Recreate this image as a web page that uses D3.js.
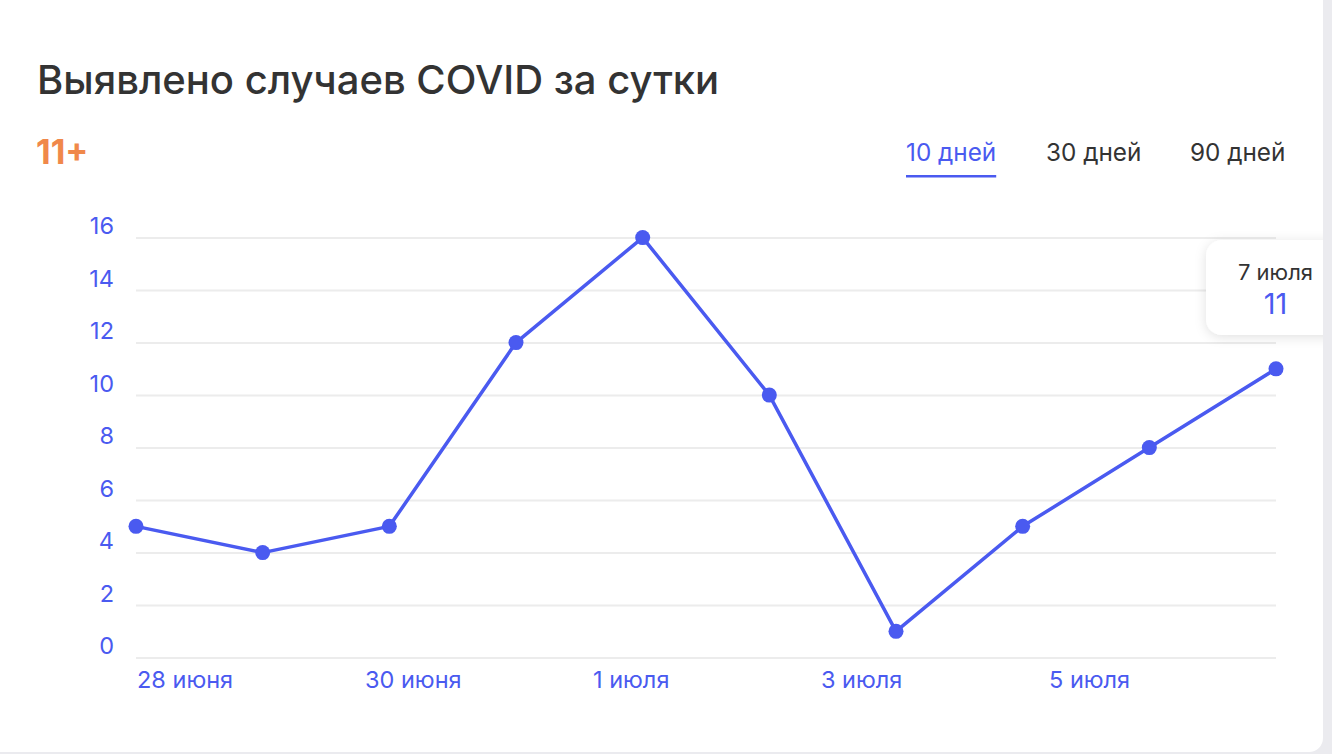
<!DOCTYPE html>
<html>
<head>
<meta charset="utf-8">
<script src="https://cdn.jsdelivr.net/npm/d3@7"></script>
<style>
  html, body { margin: 0; padding: 0; background: #ebebef; }
  svg { display: block; font-family: Inter, "Noto Sans", sans-serif; }
</style>
</head>
<body>
<svg id="chart" width="1332" height="754"></svg>
<script>
const dates = ["28 июня","29 июня","30 июня","1 июля","2 июля","3 июля","4 июля","5 июля","6 июля","7 июля"];
const values = [5, 4, 5, 12, 16, 10, 1, 5, 8, 11];
const xTickLabels = ["28 июня","30 июня","1 июля","3 июля","5 июля"];
const yTicks = [0, 2, 4, 6, 8, 10, 12, 14, 16];
const tabs = ["10 дней", "30 дней", "90 дней"];
const titleText = "Выявлено случаев COVID за сутки";
const badgeText = "11+";

const blue = "#4a5af0";
const svg = d3.select("#chart");

// card
svg.append("defs").append("clipPath").attr("id","cardClip")
  .append("rect").attr("x",-30).attr("y",-30).attr("width",1353).attr("height",782).attr("rx",14);
const filter = svg.select("defs").append("filter").attr("id","shadow")
  .attr("x","-30%").attr("y","-30%").attr("width","160%").attr("height","160%");
filter.append("feDropShadow").attr("dx",0).attr("dy",2).attr("stdDeviation",6)
  .attr("flood-color","#000").attr("flood-opacity",0.12);

svg.append("rect").attr("x",-30).attr("y",-30).attr("width",1353).attr("height",782)
  .attr("rx",14).attr("fill","#fff");

const card = svg.append("g").attr("clip-path","url(#cardClip)");

// title
card.append("text").attr("x",37).attr("y",94).attr("font-size",40).attr("font-weight",500)
  .attr("fill","#333").text(titleText);
card.append("text").attr("x",36).attr("y",164).attr("font-size",34).attr("font-weight",700)
  .attr("fill","#f0884a").text(badgeText);

// tabs
const tabX = [906, 1046, 1190];
tabs.forEach((t,i) => {
  const el = card.append("text").attr("x",tabX[i]).attr("y",161).attr("font-size",24.3)
    .attr("fill", i===0 ? blue : "#333").text(t);
  if (i===0) {
    const w = el.node().getComputedTextLength();
    card.append("rect").attr("x",tabX[i]).attr("y",175).attr("width",w).attr("height",2.5).attr("fill",blue);
  }
});

// scales
const x = d3.scalePoint().domain(dates).range([136, 1276]);
const y = d3.scaleLinear().domain([0,16]).range([657.6, 237.6]);
const xl = d3.scaleBand().domain(xTickLabels).range([136, 1276]);

// grid
const yAxis = d3.axisLeft(y).tickValues(yTicks).tickSize(0).tickFormat(d3.format("d"));
const gy = card.append("g").call(yAxis);
gy.select(".domain").remove();
gy.selectAll(".tick text").remove();
gy.selectAll(".tick").append("line").attr("x1",136).attr("x2",1276)
  .attr("stroke","#ececec").attr("stroke-width",2);
gy.selectAll(".tick").append("text").attr("x",114).attr("y",-4)
  .attr("text-anchor","end").attr("font-size",23.5).attr("fill",blue)
  .attr("font-family","Inter, 'Noto Sans', sans-serif")
  .text(d => d);

// x labels
const xAxis = d3.axisBottom(xl).tickSize(0);
const gx = card.append("g").call(xAxis);
gx.select(".domain").remove();
gx.selectAll(".tick").attr("transform", d => `translate(${xl(d)},0)`);
gx.selectAll(".tick text").attr("y",688).attr("dy",null).attr("x",1)
  .attr("text-anchor","start").attr("font-size",23.5).attr("fill",blue)
  .attr("font-family","Inter, 'Noto Sans', sans-serif");

// line
const line = d3.line().x((d,i) => x(dates[i])).y(d => y(d));
card.append("path").datum(values).attr("d",line).attr("fill","none")
  .attr("stroke",blue).attr("stroke-width",3.5).attr("stroke-linejoin","round");
card.selectAll("circle.pt").data(values).join("circle").attr("class","pt")
  .attr("cx",(d,i) => x(dates[i])).attr("cy",d => y(d)).attr("r",7.5).attr("fill",blue);

// tooltip
const last = values.length - 1;
const tip = card.append("g");
tip.append("rect").attr("x",1206).attr("y",240).attr("width",160).attr("height",95).attr("rx",16)
  .attr("fill","#fff").attr("filter","url(#shadow)");
tip.append("text").attr("x",1275.5).attr("y",280).attr("text-anchor","middle").attr("font-size",22)
  .attr("fill","#333").text(dates[last]);
tip.append("text").attr("x",1275.5).attr("y",314).attr("text-anchor","middle").attr("font-size",29)
  .attr("fill",blue).text(values[last]);
</script>
</body>
</html>
